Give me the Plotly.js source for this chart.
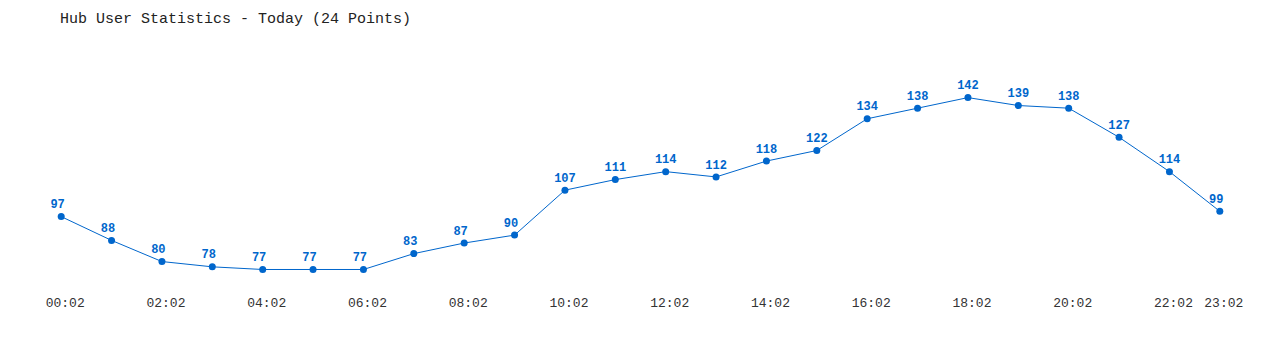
<!DOCTYPE html>
<html><head><meta charset="utf-8">
<script src="https://cdn.plot.ly/plotly-3.0.1.min.js"></script>
<style>html,body{margin:0;padding:0;background:#fff}#chart{width:1280px;height:350px}</style>
</head><body><div id="chart"></div>
<script>
const times = ["00:02","01:02","02:02","03:02","04:02","05:02","06:02","07:02","08:02","09:02","10:02","11:02","12:02","13:02","14:02","15:02","16:02","17:02","18:02","19:02","20:02","21:02","22:02","23:02"];
const users = [97,88,80,78,77,77,77,83,87,90,107,111,114,112,118,122,134,138,142,139,138,127,114,99];
const tickLabels = ["00:02","02:02","04:02","06:02","08:02","10:02","12:02","14:02","16:02","18:02","20:02","22:02","23:02"];
const xIdx = times.map((t,i)=>i);
const tickIdx = tickLabels.map(t=>times.indexOf(t));
const blue = "#0066cc";
const mono = "Liberation Mono, DejaVu Sans Mono, monospace";
Plotly.newPlot("chart",[{
  x:xIdx, y:users, mode:"lines+markers+text",
  line:{color:blue,width:1},
  marker:{color:blue,size:7},
  text:users.map(v=>String(v).padEnd(3,"\u00a0")), textposition:"top center",
  textfont:{family:mono,size:12,color:blue,weight:"bold"},
  cliponaxis:false, hoverinfo:"skip"
}],{
  width:1280,height:350,
  margin:{l:36,r:35,t:50,b:62},
  paper_bgcolor:"#fff",plot_bgcolor:"#fff",
  showlegend:false,
  title:{text:"Hub User Statistics - Today (24 Points)",x:60/1280,xanchor:"left",y:0.948,yanchor:"middle",
    font:{family:mono,size:15,color:"#222"}},
  xaxis:{range:[-0.5,23.5],tickvals:tickIdx,ticktext:tickLabels,showgrid:false,zeroline:false,showline:false,ticks:"",
    ticklabelstandoff:5,ticklabelshift:4,
    tickfont:{family:mono,size:13,color:"#333"}},
  yaxis:{range:[70,160],visible:false,showgrid:false,zeroline:false}
},{displayModeBar:false,staticPlot:true});
</script></body></html>
